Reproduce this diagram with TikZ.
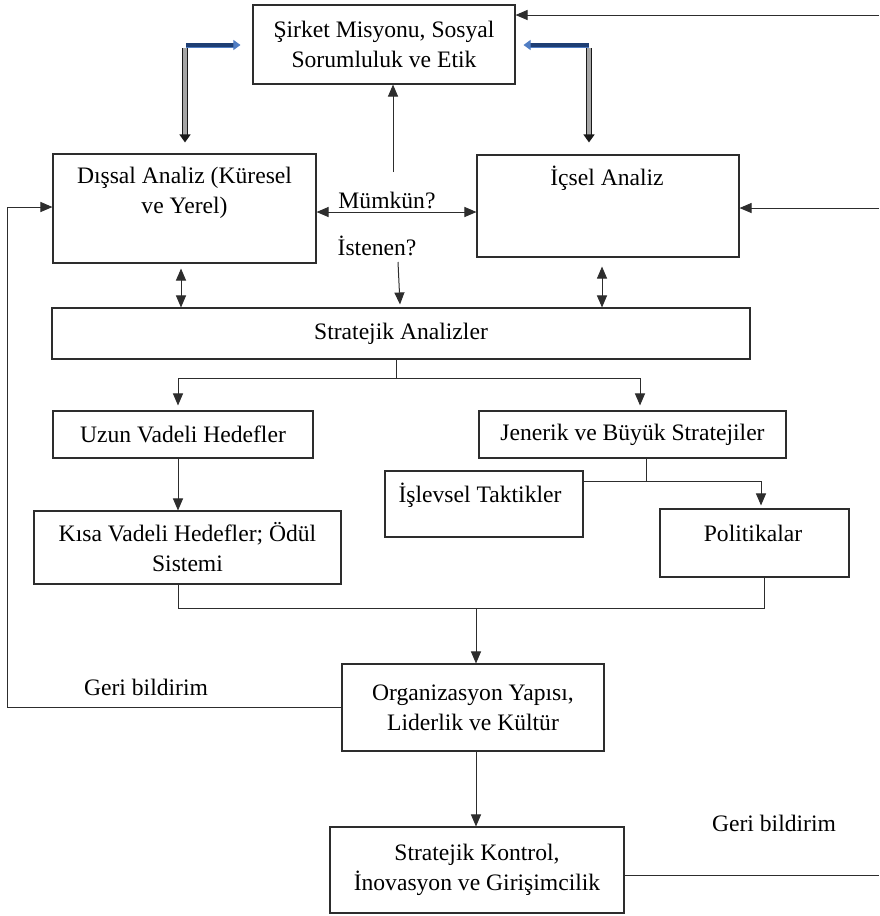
\documentclass[tikz,border=0pt]{standalone}
\usepackage{fontspec}
\setmainfont{Liberation Serif}
\usetikzlibrary{arrows.meta,calc}
\definecolor{ln}{RGB}{45,45,45}
\definecolor{bluearr}{RGB}{30,62,115}
\definecolor{blueedge}{RGB}{80,125,195}
\begin{document}
\begin{tikzpicture}[x=1pt,y=-1pt,
  font=\fontsize{23.6}{30}\selectfont,
  box/.style={draw=ln, line width=1.1pt, inner sep=0pt, align=center},
  txt/.style={inner sep=0pt, align=center},
  con/.style={draw=ln, line width=1pt},
  arr/.style={con, -{Triangle[length=12pt,width=10pt]}},
  darr/.style={con, {Triangle[length=12pt,width=10pt]}-{Triangle[length=12pt,width=10pt]}},
  dbl/.style={draw=black!90, line width=1.3pt, double=gray!70, double distance=3.2pt, -{Triangle[length=8pt,width=11pt]}},
  blu/.style={draw=blueedge, line width=0.9pt, double=bluearr, double distance=3.2pt, -{Triangle[length=7pt,width=10pt]}}]
\fill[white] (0,0) rectangle (879,916);
\useasboundingbox (0,0) rectangle (879,916);

% boxes
\node[box, minimum width=262, minimum height=79] (sm) at (384,44.5) {Şirket Misyonu, Sosyal\\Sorumluluk ve Etik};
\node[box, minimum width=263, minimum height=109] (dis) at (184.5,208.5) {};
\node[txt] (distxt) at (184.5,192.5) {Dışsal Analiz (Küresel\\ve Yerel)};
\node[box, minimum width=262, minimum height=102] (ic) at (608,206) {};
\node[txt] (ictxt) at (607,178) {İçsel Analiz};
\node[box, minimum width=698, minimum height=51] (sa) at (401,333.5) {Stratejik Analizler};
\node[box, minimum width=260, minimum height=47] (uz) at (183,434.5) {Uzun Vadeli Hedefler};
\node[box, minimum width=307, minimum height=47] (jb) at (632.5,434.5) {Jenerik ve Büyük Stratejiler};
\node[box, minimum width=307, minimum height=73] (ks) at (187.5,547.5) {Kısa Vadeli Hedefler; Ödül\\Sistemi};
\node[box, minimum width=198, minimum height=66] (it) at (484,504) {};
\node[txt] (ittxt) at (480,495) {İşlevsel Taktikler};
\node[box, minimum width=189, minimum height=68] (po) at (754.5,543) {};
\node[txt] (potxt) at (753,533) {Politikalar};
\node[box, minimum width=262, minimum height=87] (org) at (473,707.5) {Organizasyon Yapısı,\\Liderlik ve Kültür};
\node[box, minimum width=294, minimum height=86] (sk) at (477,870) {Stratejik Kontrol,\\İnovasyon ve Girişimcilik};

% labels
\node[txt] (mum) at (387,200) {Mümkün?};
\node[txt] (ist) at (377,246) {İstenen?};
\node[txt] (gb1) at (146,687) {Geri bildirim};
\node[txt] (gb2) at (774,823) {Geri bildirim};

% coordinates
\coordinate (r1) at (879,15);
\coordinate (r2) at (879,208);
\coordinate (r3) at (879,875);
\coordinate (m) at (0,212);
\coordinate (u0) at (393,172);
\coordinate (i0) at (398,262);
\coordinate (d1) at (181,0);
\coordinate (d2) at (602,0);
\coordinate (b0) at (396,378);
\coordinate (bl) at (178,378);
\coordinate (br) at (640,378);
\coordinate (ux) at (178,0);
\coordinate (jm) at (646,481);
\coordinate (pj) at (761,481);
\coordinate (mx) at (178,608);
\coordinate (mr) at (764,608);
\coordinate (mc) at (476,608);
\coordinate (fl) at (7,707.5);
\coordinate (fd) at (7,207);
\coordinate (lc) at (185,48);
\coordinate (rc) at (589,48);
\coordinate (lb) at (186,45);
\coordinate (rb) at (589,45);

% top double and blue arrows
\draw[dbl] (lc) -- ($(lc |- dis.north)+(0,-11)$);
\draw[dbl] (rc) -- ($(rc |- ic.north)+(0,-12)$);
\draw[blu] (lb) -- ($(lb -| sm.west)+(-12,0)$);
\draw[blu] (rb) -- ($(rb -| sm.east)+(8,0)$);

% right feedback arrows
\draw[arr] (r1) -- (r1 -| sm.east);
\draw[arr] (r2) -- (r2 -| ic.east);
\draw[con] (sk.east |- r3) -- (r3);

% middle connectors
\draw[darr] (dis.east |- m) -- (ic.west |- m);
\draw[arr] (u0) -- (u0 |- sm.south);
\draw[arr] (i0) -- ($(sa.north)+(-1,-3)$);
\draw[darr, shorten <=5pt] (d1 |- dis.south) -- (d1 |- sa.north);
\draw[darr, shorten <=9pt] (d2 |- ic.south) -- (d2 |- sa.north);

% branch from strategic analyses
\draw[con] (b0 |- sa.south) -- (b0);
\draw[arr, shorten >=5pt] (b0) -- (bl) -- (bl |- uz.north);
\draw[arr, shorten >=5pt] (b0) -- (br) -- (br |- jb.north);
\draw[arr] (ux |- uz.south) -- (ux |- ks.north);

% branch from generic strategies
\draw[con] (jm |- jb.south) -- (jm);
\draw[arr, shorten >=3pt] (it.east |- jm) -- (pj) -- (pj |- po.north);

% merge
\draw[con] (mx |- ks.south) -- (mx) -- (mr) -- (mr |- po.south);
\draw[arr] (mc) -- (mc |- org.north);
\draw[arr] (org.south -| mc) -- (sk.north -| mc);

% left feedback
\draw[arr] (org.west) -- (fl) -- (fd) -- (fd -| dis.west);
\end{tikzpicture}
\end{document}
